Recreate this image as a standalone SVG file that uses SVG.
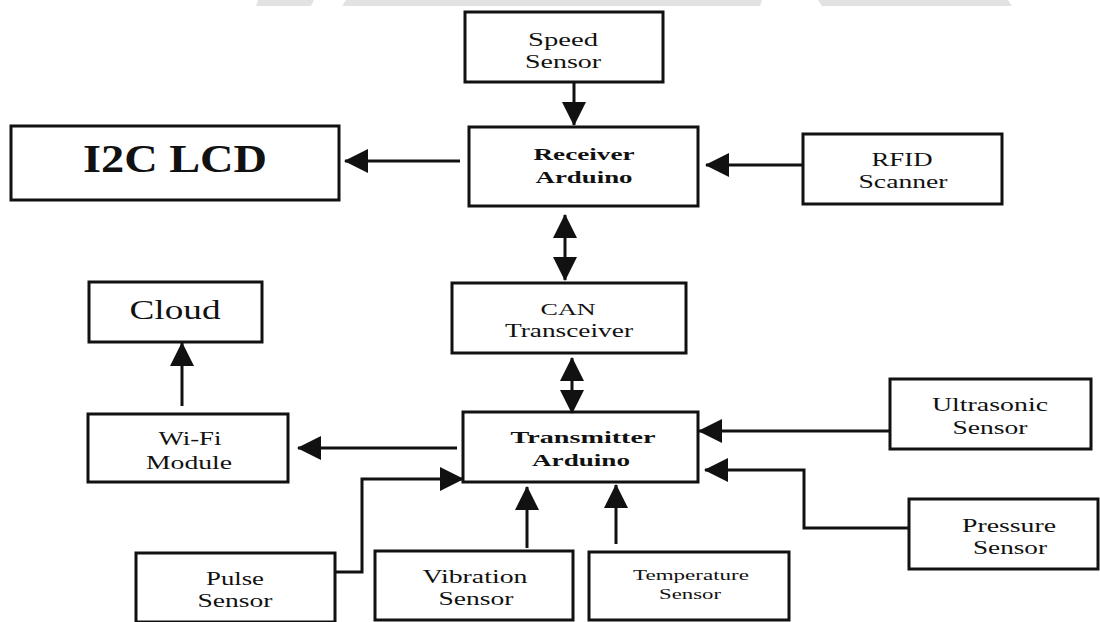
<svg xmlns="http://www.w3.org/2000/svg" width="1100" height="622" viewBox="0 0 1100 622">
<style>
.box{fill:#fff;stroke:#111;stroke-width:3}
.t{font-family:"Liberation Serif",serif;font-size:18px;fill:#111;text-anchor:middle}
.b{font-weight:bold;font-size:17px}
.c{fill:none;stroke:#111;stroke-width:3}
.wm{fill:#e2e2e2}
</style>
<defs>
<marker id="ah" viewBox="0 0 24 24" refX="23" refY="12" markerWidth="24" markerHeight="24" markerUnits="userSpaceOnUse" orient="auto-start-reverse">
<path d="M0,0 L24,12 L0,24 Z" fill="#111"/>
</marker>
</defs>
<rect width="1100" height="622" fill="#fff"/>
<g id="watermark">
<polygon class="wm" points="258,0 314,0 311,6 256,6"/>
<polygon class="wm" points="346,0 762,0 760,6 342,6"/>
<polygon class="wm" points="818,0 1008,0 1012,6 822,6"/>
</g>
<g id="speed-sensor"><rect class="box" x="465" y="12" width="198" height="70"/>
<text class="t" x="563" y="46" textLength="70" lengthAdjust="spacingAndGlyphs">Speed</text>
<text class="t" x="563" y="68" textLength="76" lengthAdjust="spacingAndGlyphs">Sensor</text></g>
<g id="i2c-lcd"><rect class="box" x="11" y="126" width="328" height="74"/>
<text class="t" x="175" y="172" style="font-size:40px;font-weight:bold" textLength="184" lengthAdjust="spacingAndGlyphs">I2C LCD</text></g>
<g id="receiver-arduino"><rect class="box" x="469" y="127" width="229" height="79"/>
<text class="t b" x="584" y="160" textLength="101" lengthAdjust="spacingAndGlyphs">Receiver</text>
<text class="t b" x="584" y="183" textLength="97" lengthAdjust="spacingAndGlyphs">Arduino</text></g>
<g id="rfid-scanner"><rect class="box" x="803" y="134" width="199" height="70"/>
<text class="t" x="902" y="166" textLength="61" lengthAdjust="spacingAndGlyphs">RFID</text>
<text class="t" x="903" y="188" textLength="89" lengthAdjust="spacingAndGlyphs">Scanner</text></g>
<g id="cloud"><rect class="box" x="89" y="282" width="173" height="60"/>
<text class="t" x="175" y="319" style="font-size:27px" textLength="91" lengthAdjust="spacingAndGlyphs">Cloud</text></g>
<g id="can-transceiver"><rect class="box" x="452" y="283" width="234" height="70"/>
<text class="t" x="568" y="315" style="font-size:16px" textLength="55" lengthAdjust="spacingAndGlyphs">CAN</text>
<text class="t" x="569" y="337" textLength="128" lengthAdjust="spacingAndGlyphs">Transceiver</text></g>
<g id="wifi-module"><rect class="box" x="88" y="414" width="200" height="68"/>
<text class="t" x="190" y="445" textLength="63" lengthAdjust="spacingAndGlyphs">Wi-Fi</text>
<text class="t" x="189" y="469" textLength="86" lengthAdjust="spacingAndGlyphs">Module</text></g>
<g id="transmitter-arduino"><rect class="box" x="463" y="412" width="235" height="70"/>
<text class="t b" x="583" y="443" textLength="145" lengthAdjust="spacingAndGlyphs">Transmitter</text>
<text class="t b" x="581" y="466" textLength="98" lengthAdjust="spacingAndGlyphs">Arduino</text></g>
<g id="ultrasonic-sensor"><rect class="box" x="890" y="379" width="201" height="70"/>
<text class="t" x="990" y="411" textLength="116" lengthAdjust="spacingAndGlyphs">Ultrasonic</text>
<text class="t" x="990" y="434" textLength="75" lengthAdjust="spacingAndGlyphs">Sensor</text></g>
<g id="pressure-sensor"><rect class="box" x="909" y="499" width="189" height="70"/>
<text class="t" x="1009" y="532" textLength="94" lengthAdjust="spacingAndGlyphs">Pressure</text>
<text class="t" x="1010" y="554" textLength="74" lengthAdjust="spacingAndGlyphs">Sensor</text></g>
<g id="pulse-sensor"><rect class="box" x="136" y="553" width="199" height="69"/>
<text class="t" x="235" y="585" textLength="58" lengthAdjust="spacingAndGlyphs">Pulse</text>
<text class="t" x="235" y="607" textLength="75" lengthAdjust="spacingAndGlyphs">Sensor</text></g>
<g id="vibration-sensor"><rect class="box" x="375" y="551" width="198" height="69"/>
<text class="t" x="475" y="583" textLength="105" lengthAdjust="spacingAndGlyphs">Vibration</text>
<text class="t" x="476" y="605" textLength="75" lengthAdjust="spacingAndGlyphs">Sensor</text></g>
<g id="temperature-sensor"><rect class="box" x="589" y="552" width="200" height="68"/>
<text class="t" x="691" y="580" style="font-size:15px" textLength="116" lengthAdjust="spacingAndGlyphs">Temperature</text>
<text class="t" x="690" y="599" style="font-size:15px" textLength="62" lengthAdjust="spacingAndGlyphs">Sensor</text></g>
<g id="connectors">
<line class="c" x1="574" y1="82" x2="574" y2="125" marker-end="url(#ah)"/>
<line class="c" x1="460" y1="161" x2="345" y2="161" marker-end="url(#ah)"/>
<line class="c" x1="803" y1="165" x2="706" y2="165" marker-end="url(#ah)"/>
<line class="c" x1="565" y1="215" x2="565" y2="280" marker-start="url(#ah)" marker-end="url(#ah)"/>
<line class="c" x1="572" y1="358" x2="572" y2="413" marker-start="url(#ah)" marker-end="url(#ah)"/>
<line class="c" x1="457" y1="448" x2="298" y2="448" marker-end="url(#ah)"/>
<line class="c" x1="182" y1="406" x2="182" y2="343" marker-end="url(#ah)"/>
<line class="c" x1="890" y1="431" x2="699" y2="431" marker-end="url(#ah)"/>
<polyline class="c" points="909,528 804,528 804,470 705,470" marker-end="url(#ah)"/>
<polyline class="c" points="335,572 362,572 362,479 463,479" marker-end="url(#ah)"/>
<line class="c" x1="527" y1="548" x2="527" y2="487" marker-end="url(#ah)"/>
<line class="c" x1="616" y1="544" x2="616" y2="485" marker-end="url(#ah)"/>
</g>
</svg>
